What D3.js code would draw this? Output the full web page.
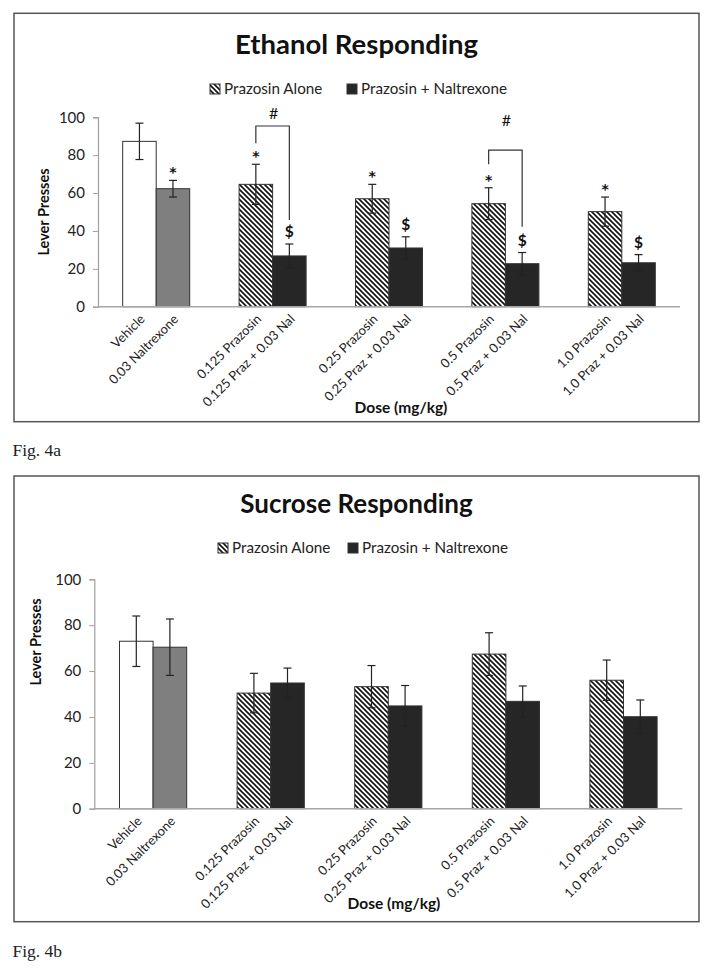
<!DOCTYPE html>
<html>
<head>
<meta charset="utf-8">
<script src="https://cdn.jsdelivr.net/npm/d3@7"></script>
<style>
  html, body { margin: 0; padding: 0; background: #fff; }
  text { font-family: Lato, "Open Sans", sans-serif; }
</style>
</head>
<body>
<script>
// ---------- DATA ----------
const categories = ["Vehicle", "0.03 Naltrexone", "0.125 Prazosin", "0.125 Praz + 0.03 Nal",
  "0.25 Prazosin", "0.25 Praz + 0.03 Nal", "0.5 Prazosin", "0.5 Praz + 0.03 Nal",
  "1.0 Prazosin", "1.0 Praz + 0.03 Nal"];
const groups = ["Control", "0.125", "0.25", "0.5", "1.0"];
const barTypes = ["vehicle", "naltrexone", "alone", "combo", "alone", "combo", "alone", "combo", "alone", "combo"];
const legendLabels = ["Prazosin Alone", "Prazosin + Naltrexone"];
const yTicks = [0, 20, 40, 60, 80, 100];

const ethanolMeans = [87.3, 62.3, 64.6, 26.8, 57.0, 31.0, 54.4, 22.7, 50.2, 23.2];
const ethanolSEM   = [9.6, 4.4, 10.6, 6.3, 7.6, 5.9, 8.4, 5.9, 7.7, 4.3];
const ethanolMarks = ["", "*", "*", "$", "*", "$", "*", "$", "*", "$"];
// significance brackets: group, bracket top, left leg end, right leg end, "#" height (lever presses)
const ethanolBrackets = [
  { group: "0.125", top: 95.4, left: 86.3, right: 45.8, label: 102.1 },
  { group: "0.5",   top: 82.7, left: 75.2, right: 42.2, label: 98.6 }
];

const sucroseMeans = [73.0, 70.4, 50.4, 54.8, 53.2, 44.8, 67.4, 46.8, 56.0, 40.1];
const sucroseSEM   = [11.0, 12.3, 8.6, 6.5, 9.2, 8.9, 9.3, 6.7, 8.8, 7.3];
const sucroseMarks = ["", "", "", "", "", "", "", "", "", ""];
const sucroseBrackets = [];

// ---------- DRAW ----------
const svg = d3.select("body").append("svg")
  .attr("width", 714).attr("height", 973)
  .style("display", "block");

svg.append("rect").attr("width", 714).attr("height", 973).attr("fill", "#fff");

const defs = svg.append("defs");
const pat = defs.append("pattern").attr("id", "hatch")
  .attr("patternUnits", "userSpaceOnUse").attr("width", 5).attr("height", 5);
pat.append("rect").attr("width", 5).attr("height", 5).attr("fill", "#fff");
pat.append("path").attr("d", "M-1,-1 L6,6 M-1,4 L1,6 M4,-1 L6,1")
  .attr("stroke", "#111").attr("stroke-width", 1.6);

const fills = { vehicle: "#ffffff", naltrexone: "#7f7f7f", alone: "url(#hatch)", combo: "#262626" };

function drawChart(cfg) {
  const g = svg.append("g");
  // frame
  g.append("rect")
    .attr("x", cfg.box[0]).attr("y", cfg.box[1])
    .attr("width", cfg.box[2] - cfg.box[0]).attr("height", cfg.box[3] - cfg.box[1])
    .attr("fill", "none").attr("stroke", "#555").attr("stroke-width", 1.5);

  // title
  g.append("text").attr("x", 356.5).attr("y", cfg.titleY)
    .attr("text-anchor", "middle").attr("font-weight", "bold")
    .attr("font-size", cfg.titleSize).attr("fill", "#111").text(cfg.title);

  // legend
  const legTypes = ["alone", "combo"];
  legendLabels.forEach((lab, i) => {
    const lx = cfg.legendX[i];
    g.append("rect").attr("x", lx).attr("y", cfg.legendY - 5)
      .attr("width", 10).attr("height", 10)
      .attr("fill", fills[legTypes[i]]).attr("stroke", "#333").attr("stroke-width", 1);
    g.append("text").attr("x", lx + 14).attr("y", cfg.legendY).attr("dy", "0.35em")
      .attr("font-size", 15.2).attr("fill", "#222").text(lab);
  });

  // scales
  const x0 = d3.scaleBand().domain(groups).range(cfg.xRange).paddingInner(0).paddingOuter(0);
  const x1 = d3.scaleBand().domain([0, 1]).range([0, x0.bandwidth()])
    .paddingInner(0).paddingOuter(cfg.subPad);
  const y = d3.scaleLinear().domain([0, 100]).range(cfg.yRange);
  const bx = i => x0(groups[Math.floor(i / 2)]) + x1(i % 2);
  const bw = x1.bandwidth();

  // y axis
  const yAxis = g.append("g").attr("transform", `translate(${cfg.xRange[0]},0)`)
    .call(d3.axisLeft(y).tickValues(yTicks).tickSize(5).tickPadding(8).tickFormat(d3.format("d")));
  yAxis.select(".domain").attr("stroke", "#a0a0a0").attr("stroke-width", 1.2);
  yAxis.selectAll(".tick line").attr("stroke", "#a0a0a0");
  yAxis.selectAll(".tick text").attr("font-family", "Lato, sans-serif")
    .attr("font-size", 15).attr("fill", "#222");

  // bars
  const data = cfg.means.map((m, i) => ({ i, m, e: cfg.sem[i], t: barTypes[i], mark: cfg.marks[i] }));
  g.selectAll("rect.bar").data(data).enter().append("rect").attr("class", "bar")
    .attr("x", d => bx(d.i)).attr("y", d => y(d.m))
    .attr("width", bw).attr("height", d => y(0) - y(d.m))
    .attr("fill", d => fills[d.t]).attr("stroke", "#333").attr("stroke-width", 1);

  // x axis line
  g.append("line").attr("x1", cfg.xRange[0]).attr("x2", cfg.xRange[1])
    .attr("y1", y(0)).attr("y2", y(0)).attr("stroke", "#a6a6a6").attr("stroke-width", 1.5);

  // error bars
  const eb = g.selectAll("g.err").data(data).enter().append("g").attr("class", "err")
    .attr("stroke", "#222").attr("stroke-width", 1.2);
  eb.append("line").attr("x1", d => bx(d.i) + bw / 2).attr("x2", d => bx(d.i) + bw / 2)
    .attr("y1", d => y(d.m + d.e)).attr("y2", d => y(d.m - d.e));
  eb.append("line").attr("x1", d => bx(d.i) + bw / 2 - 4).attr("x2", d => bx(d.i) + bw / 2 + 4)
    .attr("y1", d => y(d.m + d.e)).attr("y2", d => y(d.m + d.e));
  eb.append("line").attr("x1", d => bx(d.i) + bw / 2 - 4).attr("x2", d => bx(d.i) + bw / 2 + 4)
    .attr("y1", d => y(d.m - d.e)).attr("y2", d => y(d.m - d.e));

  // significance marks
  g.selectAll("text.mark").data(data.filter(d => d.mark)).enter().append("text").attr("class", "mark")
    .attr("x", d => bx(d.i) + bw / 2)
    .attr("y", d => y(d.m + d.e) - (d.mark === "*" ? 3 : 7))
    .attr("text-anchor", "middle").attr("font-weight", "bold")
    .style("font-family", d => d.mark === "*" ? "'DejaVu Sans', sans-serif" : "Lato, sans-serif")
    .attr("font-size", d => d.mark === "*" ? 14 : 15.5).attr("fill", "#111").text(d => d.mark);

  // brackets
  cfg.brackets.forEach(b => {
    const gi = groups.indexOf(b.group);
    const xl = bx(gi * 2) + bw / 2, xr = bx(gi * 2 + 1) + bw / 2;
    g.append("path")
      .attr("d", `M${xl},${y(b.left)} V${y(b.top)} H${xr} V${y(b.right)}`)
      .attr("fill", "none").attr("stroke", "#333").attr("stroke-width", 1.2);
    g.append("text").attr("x", (xl + xr) / 2 + 1).attr("y", y(b.label)).attr("dy", "0.36em")
      .attr("text-anchor", "middle").attr("font-size", 16).attr("fill", "#111").text("#");
  });

  // x labels
  g.selectAll("text.xl").data(categories).enter().append("text").attr("class", "xl")
    .attr("transform", (d, i) => `translate(${bx(i) + bw / 2 + 3},${y(0) + 10}) rotate(-45)`)
    .attr("text-anchor", "end").attr("dy", "0.35em")
    .attr("font-size", 13).attr("fill", "#222").text(d => d);

  // axis titles
  g.append("text")
    .attr("transform", `translate(${cfg.yLabelX},${cfg.yLabelY}) rotate(-90)`)
    .attr("text-anchor", "middle").attr("dy", "0.35em")
    .attr("font-weight", "bold").attr("font-size", 14.5).attr("fill", "#111").text("Lever Presses");
  g.append("text").attr("x", cfg.doseX).attr("y", cfg.doseY)
    .attr("text-anchor", "middle").attr("font-weight", "bold")
    .attr("font-size", 15.5).attr("fill", "#111").text("Dose (mg/kg)");

  // figure caption
  svg.append("text").attr("x", 12.5).attr("y", cfg.figY)
    .style("font-family", "'Liberation Serif', 'DejaVu Serif', serif")
    .attr("font-size", 17.5).attr("fill", "#222").text(cfg.fig);
}

drawChart({
  box: [14, 13.3, 699, 421.7], title: "Ethanol Responding", titleY: 54, titleSize: 27.5,
  legendY: 89, legendX: [210, 347], xRange: [98, 680], yRange: [306.7, 117.3], subPad: 0.737,
  means: ethanolMeans, sem: ethanolSEM, marks: ethanolMarks, brackets: ethanolBrackets,
  yLabelX: 44, yLabelY: 212, doseX: 401, doseY: 413, fig: "Fig. 4a", figY: 456
});
drawChart({
  box: [14, 476, 699, 921.7], title: "Sucrose Responding", titleY: 513, titleSize: 26,
  legendY: 548, legendX: [218, 348], xRange: [94.3, 682.3], yRange: [808.7, 579.3], subPad: 0.75,
  means: sucroseMeans, sem: sucroseSEM, marks: sucroseMarks, brackets: sucroseBrackets,
  yLabelX: 36, yLabelY: 642, doseX: 394, doseY: 909, fig: "Fig. 4b", figY: 957
});
</script>
</body>
</html>
